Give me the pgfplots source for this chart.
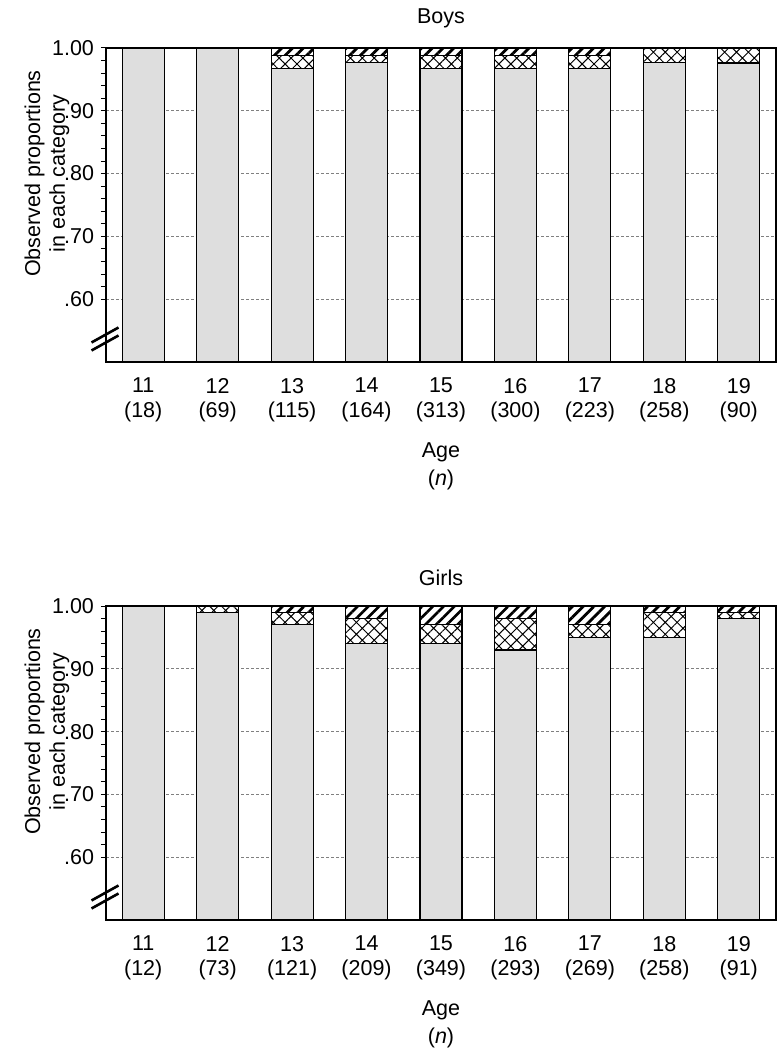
\documentclass[border=0pt]{standalone}
\usepackage{fontspec}
\setmainfont{Liberation Sans}
\usepackage{pgfplots}
\usepackage{pgfplotstable}
\pgfplotsset{compat=1.18}
\usetikzlibrary{patterns.meta}

\pgfplotstableread{
x dot cross hatch
0 1.000 0.000 0.000
1 1.000 0.000 0.000
2 0.967 0.021 0.012
3 0.977 0.011 0.012
4 0.967 0.021 0.012
5 0.967 0.021 0.012
6 0.967 0.021 0.012
7 0.977 0.023 0.000
8 0.976 0.024 0.000
}\boys

\pgfplotstableread{
x dot cross hatch
0 1.00 0.00 0.00
1 0.99 0.01 0.00
2 0.97 0.02 0.01
3 0.94 0.04 0.02
4 0.94 0.03 0.03
5 0.93 0.05 0.02
6 0.95 0.02 0.03
7 0.95 0.04 0.01
8 0.98 0.01 0.01
}\girls

\pgfplotsset{
  myaxis/.style={
    scale only axis,
    width=335bp, height=157bp,
    anchor=south west,
    ybar stacked,
    bar width=21bp,
    xmin=-0.5, xmax=8.5,
    ymin=0.5, ymax=1.0,
    axis line style={line width=0.6bp},
    ytick={0.6,0.7,0.8,0.9,1.0},
    yticklabels={.60,.70,.80,.90,1.00},
    minor ytick={0.62,0.64,0.66,0.68,0.72,0.74,0.76,0.78,0.82,0.84,0.86,0.88,0.92,0.94,0.96,0.98},
    ytick pos=left,
    tick align=outside,
    major tick length=2.5bp,
    minor tick length=2.5bp,
    ytick style={line width=0.5bp, black},
    xtick={0,...,8},
    xtick style={draw=none},
    ymajorgrids,
    major grid style={dash pattern=on 1.5bp off 1bp, gray, line width=0.4bp},
    /pgf/number format/assume math mode=true,
    ticklabel style={font=\fontsize{10.75bp}{12.4bp}\selectfont},
    xticklabel style={align=center, yshift=-2bp},
    label style={font=\fontsize{10.75bp}{12.4bp}\selectfont, align=center},
    title style={font=\fontsize{10.75bp}{12.4bp}\selectfont, yshift=0.5bp},
    xlabel={Age\\[1.5bp](\textit{n})},
    xlabel style={yshift=-3.25bp},
    ylabel={Observed proportions\\in each category},
    ylabel style={at={([xshift=-29.5bp]rel axis cs:0,0.6)}, anchor=center},
    every axis plot/.append style={draw=black, line width=0.6bp},
  },
  dotbar/.style={fill=black!13},
  crossbar/.style={pattern={Hatch[angle=45,distance=4.2bp,line width=0.5bp]}},
  hatchbar/.style={pattern={Lines[angle=45,distance=3.8bp,line width=1.4bp]}},
}

\begin{document}
\begin{tikzpicture}
\useasboundingbox (0,0) rectangle (391.5bp,525bp);

\begin{axis}[myaxis, name=boys, at={(53bp,344bp)}, title={Boys},
  xticklabels={{11\\(18)},{12\\(69)},{13\\(115)},{14\\(164)},{15\\(313)},{16\\(300)},{17\\(223)},{18\\(258)},{19\\(90)}}]
\addplot[dotbar] table[x=x,y=dot] {\boys};
\addplot[crossbar] table[x=x,y=cross] {\boys};
\addplot[hatchbar] table[x=x,y=hatch] {\boys};
\end{axis}
\draw[line width=1.3bp] ([shift={(-7.25bp,9.75bp)}]boys.south west) -- ++(13.5bp,7.5bp);
\draw[line width=1.3bp] ([shift={(-7.25bp,5.75bp)}]boys.south west) -- ++(13.5bp,7.5bp);

\begin{axis}[myaxis, name=girls, at={(53bp,65bp)}, title={Girls},
  xticklabels={{11\\(12)},{12\\(73)},{13\\(121)},{14\\(209)},{15\\(349)},{16\\(293)},{17\\(269)},{18\\(258)},{19\\(91)}}]
\addplot[dotbar] table[x=x,y=dot] {\girls};
\addplot[crossbar] table[x=x,y=cross] {\girls};
\addplot[hatchbar] table[x=x,y=hatch] {\girls};
\end{axis}
\draw[line width=1.3bp] ([shift={(-7.25bp,9.75bp)}]girls.south west) -- ++(13.5bp,7.5bp);
\draw[line width=1.3bp] ([shift={(-7.25bp,5.75bp)}]girls.south west) -- ++(13.5bp,7.5bp);
\end{tikzpicture}
\end{document}
